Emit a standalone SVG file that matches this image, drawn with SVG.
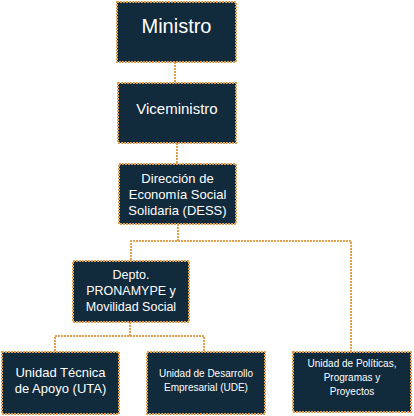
<svg xmlns="http://www.w3.org/2000/svg" width="414" height="416" viewBox="0 0 414 416">
<style>
.box{fill:#112a3c;stroke:#e0a050;stroke-width:2;stroke-dasharray:2 1}
.con{fill:none;stroke:#e0a050;stroke-width:2;stroke-dasharray:2 1}
text{font-family:"Liberation Sans",Arial,sans-serif;fill:#ffffff;text-anchor:middle}
</style>
<rect width="414" height="416" fill="#ffffff"/>
<g id="connectors">
<path class="con" d="M175 62V83"/>
<path class="con" d="M177 143V164"/>
<path class="con" d="M178 224V241H131V261"/>
<path class="con" d="M178 241H351V352"/>
<path class="con" d="M130 322V336H55V352"/>
<path class="con" d="M130 336H204V352"/>
</g>
<g id="ministro">
<rect class="box" x="117" y="2" width="119" height="60"/>
<text x="176.5" y="33" font-size="20">Ministro</text>
</g>
<g id="viceministro">
<rect class="box" x="118" y="83" width="118" height="60"/>
<text x="177" y="114" font-size="15">Viceministro</text>
</g>
<g id="dess">
<rect class="box" x="119" y="164" width="117" height="60"/>
<text x="177.5" y="183" font-size="13">Dirección de</text>
<text x="177.5" y="199" font-size="13">Economía Social</text>
<text x="177.5" y="215" font-size="13">Solidaria (DESS)</text>
</g>
<g id="depto">
<rect class="box" x="73" y="261" width="116" height="61"/>
<text x="131" y="279" font-size="12.5">Depto.</text>
<text x="131" y="295" font-size="12.5">PRONAMYPE y</text>
<text x="131" y="311" font-size="12.5">Movilidad Social</text>
</g>
<g id="uta">
<rect class="box" x="2" y="352" width="117" height="62"/>
<text x="60.5" y="377" font-size="13">Unidad Técnica</text>
<text x="60.5" y="393" font-size="13">de Apoyo (UTA)</text>
</g>
<g id="ude">
<rect class="box" x="147" y="352" width="118" height="62"/>
<text x="206" y="377" font-size="10">Unidad de Desarrollo</text>
<text x="206" y="391" font-size="10">Empresarial (UDE)</text>
</g>
<g id="politicas">
<rect class="box" x="293" y="352" width="118" height="60"/>
<text x="352" y="367" font-size="10">Unidad de Políticas,</text>
<text x="352" y="381" font-size="10">Programas y</text>
<text x="352" y="395" font-size="10">Proyectos</text>
</g>
</svg>
